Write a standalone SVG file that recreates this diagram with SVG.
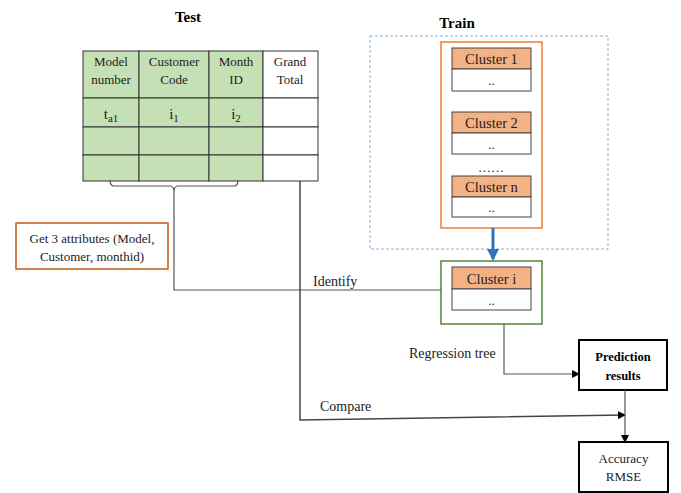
<svg xmlns="http://www.w3.org/2000/svg" width="681" height="493" viewBox="0 0 681 493" font-family="'Liberation Serif', 'DejaVu Serif', serif">
<defs>
<style>
text{font-family:'Liberation Serif','DejaVu Serif',serif;fill:#222;}
.t{font-size:13px;text-anchor:middle;}
.cl{font-size:14.5px;text-anchor:middle;}
.lbl{font-size:14px;}
.title{font-size:15px;font-weight:bold;text-anchor:middle;fill:#000;}
.b{font-size:12.5px;font-weight:bold;text-anchor:middle;fill:#000;}
.cell{stroke:#333;stroke-width:1;}
.g{fill:#c5e0b4;}
.w{fill:#fff;}
.hdr{fill:#f4b183;stroke:#444;stroke-width:1;}
.body{fill:#fff;stroke:#444;stroke-width:1;}
.ln{fill:none;stroke:#555;stroke-width:1.2;}
</style>
<marker id="ah" markerWidth="8" markerHeight="8" refX="7" refY="4" orient="auto" markerUnits="userSpaceOnUse">
<path d="M0,0 L8,4 L0,8 Z" fill="#000"/>
</marker>
<marker id="bh" markerWidth="12" markerHeight="12" refX="10" refY="6" orient="auto" markerUnits="userSpaceOnUse">
<path d="M0,0 L12,6 L0,12 Z" fill="#2e75b6"/>
</marker>
</defs>

<g id="test">
<text class="title" x="188" y="22">Test</text>
<rect class="cell g" x="83" y="51" width="56" height="47"/>
<rect class="cell g" x="139" y="51" width="70" height="47"/>
<rect class="cell g" x="209" y="51" width="54" height="47"/>
<rect class="cell w" x="263" y="51" width="55" height="47"/>
<rect class="cell g" x="83" y="98" width="56" height="29"/>
<rect class="cell g" x="139" y="98" width="70" height="29"/>
<rect class="cell g" x="209" y="98" width="54" height="29"/>
<rect class="cell w" x="263" y="98" width="55" height="29"/>
<rect class="cell g" x="83" y="127" width="56" height="28"/>
<rect class="cell g" x="139" y="127" width="70" height="28"/>
<rect class="cell g" x="209" y="127" width="54" height="28"/>
<rect class="cell w" x="263" y="127" width="55" height="28"/>
<rect class="cell g" x="83" y="155" width="56" height="26"/>
<rect class="cell g" x="139" y="155" width="70" height="26"/>
<rect class="cell g" x="209" y="155" width="54" height="26"/>
<rect class="cell w" x="263" y="155" width="55" height="26"/>
<text class="t" x="111" y="66">Model</text>
<text class="t" x="111" y="84">number</text>
<text class="t" x="174" y="66">Customer</text>
<text class="t" x="174" y="84">Code</text>
<text class="t" x="236" y="66">Month</text>
<text class="t" x="236" y="84">ID</text>
<text class="t" x="290" y="66">Grand</text>
<text class="t" x="290" y="84">Total</text>
<text class="t" x="111" y="119" style="font-size:15px">t<tspan dy="3" style="font-size:11px">a1</tspan></text>
<text class="t" x="174" y="119" style="font-size:15px">i<tspan dy="3" style="font-size:11px">1</tspan></text>
<text class="t" x="236" y="119" style="font-size:15px">i<tspan dy="3" style="font-size:11px">2</tspan></text>
</g>

<g id="attributes">
<rect x="16" y="223" width="152" height="46" fill="#fff" stroke="#c55a11" stroke-width="1.5"/>
<text class="t" x="92" y="243">Get 3 attributes (Model,</text>
<text class="t" x="92" y="261">Customer, monthid)</text>
</g>

<g id="train">
<text class="title" x="457" y="28">Train</text>
<rect x="370" y="36" width="238" height="213" fill="none" stroke="#8fb0d8" stroke-width="1" stroke-dasharray="3,2"/>
<rect x="441" y="42" width="101" height="186" fill="#fff" stroke="#ed7d31" stroke-width="1.5"/>
</g>

<g id="cluster1">
<rect class="hdr" x="452" y="48" width="79" height="21"/>
<rect class="body" x="452" y="69" width="79" height="22"/>
<text class="cl" x="491.5" y="64">Cluster 1</text>
<text class="t" x="491.5" y="85">..</text>
</g>
<g id="cluster2">
<rect class="hdr" x="452" y="112" width="79" height="21"/>
<rect class="body" x="452" y="133" width="79" height="21"/>
<text class="cl" x="491.5" y="128">Cluster 2</text>
<text class="t" x="491.5" y="149">..</text>
</g>
<text class="t" x="491" y="172">……</text>
<g id="clustern">
<rect class="hdr" x="452" y="176" width="79" height="21"/>
<rect class="body" x="452" y="197" width="79" height="20"/>
<text class="cl" x="491.5" y="192">Cluster n</text>
<text class="t" x="491.5" y="212">..</text>
</g>

<g id="clusteri">
<rect x="441" y="261" width="101" height="63" fill="#fff" stroke="#548235" stroke-width="1.5"/>
<rect class="hdr" x="452" y="267" width="79" height="22"/>
<rect class="body" x="452" y="289" width="79" height="21"/>
<text class="cl" x="491.5" y="284">Cluster i</text>
<text class="t" x="491.5" y="305">..</text>
</g>

<g id="prediction">
<rect x="579" y="340" width="88" height="50" fill="#fff" stroke="#000" stroke-width="2"/>
<text class="b" x="623" y="361">Prediction</text>
<text class="b" x="623" y="380">results</text>
</g>

<g id="accuracy">
<rect x="579" y="442" width="89" height="50" fill="#fff" stroke="#000" stroke-width="2"/>
<text class="t" x="623.5" y="463">Accuracy</text>
<text class="t" x="623.5" y="481">RMSE</text>
</g>

<g id="connectors">
<path class="ln" d="M110,180 Q110,186 114,186 L170,186 Q174,186 174,192 Q174,186 178,186 L234,186 Q238,186 238,180" stroke-width="1"/>
<path class="ln" d="M174,192 L174,290 L441,290" stroke-width="1"/>
<path d="M300,181 L300,420 L625,415" fill="none" stroke="#444" stroke-width="1.5" marker-end="url(#ah)"/>
<path d="M493,228 L493,259" fill="none" stroke="#2e75b6" stroke-width="3" marker-end="url(#bh)"/>
<path class="ln" d="M504,324 L504,374 L579,374" stroke-width="1" marker-end="url(#ah)"/>
<path class="ln" d="M625,390 L625,442" stroke-width="1" marker-end="url(#ah)"/>
<text class="lbl" x="313" y="286">Identify</text>
<text class="lbl" x="409" y="358">Regression tree</text>
<text class="lbl" x="320" y="411">Compare</text>
</g>
</svg>
